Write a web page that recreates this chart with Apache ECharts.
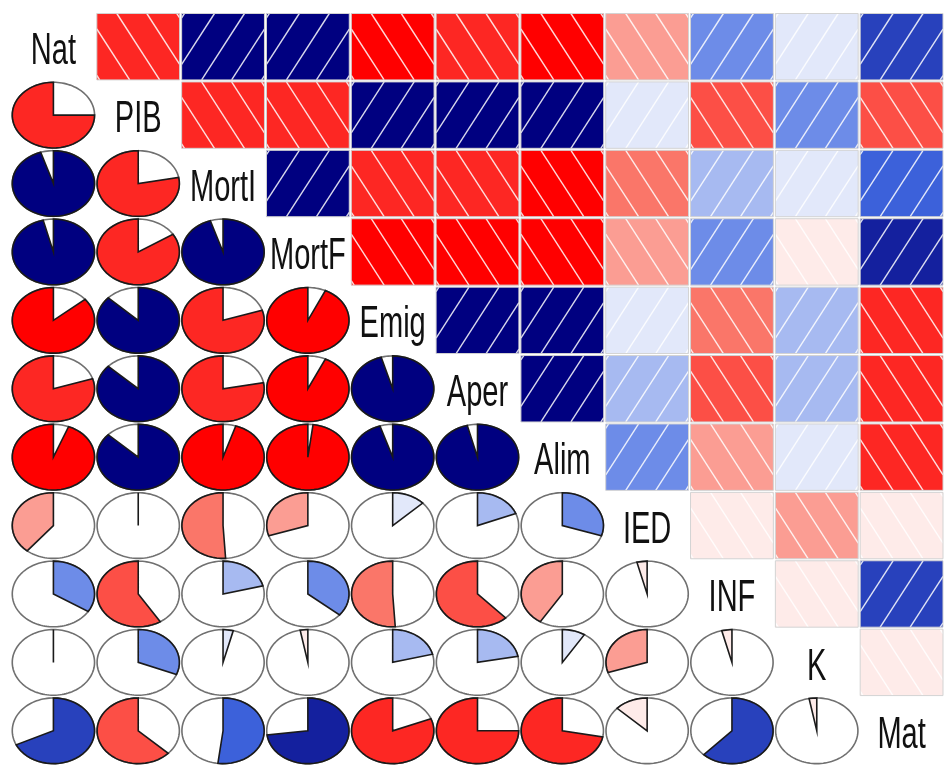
<!DOCTYPE html>
<html><head><meta charset="utf-8">
<script src="https://cdn.jsdelivr.net/npm/echarts@6/dist/echarts.min.js"></script>
<style>html,body{margin:0;padding:0;background:#fff}#c{width:944px;height:765px}</style>
</head><body><div id="c"></div>
<script>
// Variables (diagonal labels)
const variables = ['Nat','PIB','MortI','MortF','Emig','Aper','Alim','IED','INF','K','Mat'];
// Correlations of each variable with the variables that follow it
const rNat   = [-0.75, 0.95, 0.96, -0.86, -0.80, -0.94, -0.39, 0.34, 0.02, 0.68];
const rPIB   = [-0.78, -0.84, 0.87, 0.87, 0.87, 0.01, -0.59, 0.31, -0.63];
const rMortI = [0.95, -0.80, -0.78, -0.95, -0.51, 0.21, 0.04, 0.52];
const rMortF = [-0.93, -0.93, -0.98, -0.30, 0.36, -0.03, 0.73];
const rEmig  = [0.955, 0.95, 0.13, -0.51, 0.21, -0.81];
const rAper  = [0.96, 0.19, -0.62, 0.22, -0.75];
const rAlim  = [0.30, -0.41, 0.09, -0.72];
const rIED   = [-0.04, -0.30, -0.13];
const rINF   = [-0.04, 0.62];
const rK     = [-0.03];

const corrRows = [rNat, rPIB, rMortI, rMortF, rEmig, rAper, rAlim, rIED, rINF, rK, []];
const n = variables.length;
const M = [];
for (let i = 0; i < n; i++) { M.push(new Array(n).fill(0)); M[i][i] = 1; }
corrRows.forEach((row, i) => row.forEach((v, k) => { const j = i + 1 + k; M[i][j] = v; M[j][i] = v; }));
const data = [];
for (let i = 0; i < n; i++) for (let j = 0; j < n; j++) data.push([j, i, M[i][j]]);

// corrgram palette: red, salmon, white, royalblue, navy -> 14 colours
const anchors = [[255,0,0],[250,128,114],[255,255,255],[65,105,225],[0,0,128]];
const NCOL = 14;
const palette = [];
for (let i = 0; i < NCOL; i++) {
  const p = i * (anchors.length - 1) / (NCOL - 1);
  const s = Math.min(Math.floor(p), anchors.length - 2), f = p - s;
  const c = anchors[s].map((v, k) => Math.round(v + (anchors[s + 1][k] - v) * f));
  palette.push('rgb(' + c.join(',') + ')');
}
function colorFor(r) {
  let idx = Math.ceil((r + 1) * NCOL / 2) - 1;
  idx = Math.max(0, Math.min(NCOL - 1, idx));
  return palette[idx];
}

function renderItem(params, api) {
  const col = api.value(0), row = api.value(1), r = api.value(2);
  const c = api.coord([col, row]);
  const sz = api.size([1, 1]);
  const w = sz[0], h = sz[1], cx = c[0], cy = c[1];
  if (row === col) {
    return {
      type: 'text', x: cx, y: cy + 5, scaleX: 0.66, scaleY: 1,
      style: { text: variables[row], x: 0, y: 0, fill: '#111111',
        font: '44px "Liberation Sans", Arial, sans-serif',
        align: 'center', verticalAlign: 'middle', textAlign: 'center', textVerticalAlign: 'middle' }
    };
  }
  if (col > row) {
    const L = cx - w / 2 + 1, R = cx + w / 2 - 1, T = cy - h / 2 + 1, B = cy + h / 2 - 1;
    const children = [{ type: 'rect', shape: { x: L, y: T, width: R - L, height: B - T },
      style: { fill: colorFor(r), stroke: null } }];
    const slope = 1.55, spacing = 30, offset = 20;
    const tSpan = (B - T) / slope;
    const kMin = -Math.ceil(tSpan / spacing) - 1, kMax = Math.ceil((R - L) / spacing) + 1;
    for (let k = kMin; k <= kMax; k++) {
      const x0 = L + offset + k * spacing;
      const t1 = Math.max(0, L - x0), t2 = Math.min(tSpan, R - x0);
      if (t2 <= t1) continue;
      let shape;
      if (r > 0) shape = { x1: x0 + t1, y1: B - slope * t1, x2: x0 + t2, y2: B - slope * t2 };
      else shape = { x1: x0 + t1, y1: T + slope * t1, x2: x0 + t2, y2: T + slope * t2 };
      children.push({ type: 'line', shape: shape, style: { stroke: 'rgba(255,255,255,0.85)', lineWidth: 1.4 } });
    }
    children.push({ type: 'rect', shape: { x: L, y: T, width: R - L, height: B - T },
      style: { fill: null, stroke: '#d3d3d3', lineWidth: 1 } });
    return { type: 'group', children: children };
  }
  // pie (lower triangle)
  const rx = w * 0.485, ry = h * 0.48;
  const ell = [];
  for (let k = 0; k < 120; k++) {
    const a = k / 120 * 2 * Math.PI;
    ell.push([cx + Math.cos(a) * rx, cy - Math.sin(a) * ry]);
  }
  const children = [{ type: 'polygon', shape: { points: ell }, style: { fill: null, stroke: '#707070', lineWidth: 1.6 } }];
  const segs = Math.round(60 * Math.abs(r));
  if (segs > 0) {
    const pts = [];
    const a0 = Math.PI / 2, a1 = Math.PI / 2 - 2 * Math.PI * r;
    for (let k = 0; k < segs; k++) {
      const a = segs === 1 ? a0 : a0 + (a1 - a0) * k / (segs - 1);
      pts.push([cx + Math.cos(a) * rx, cy - Math.sin(a) * ry]);
    }
    pts.push([cx, cy]);
    children.push({ type: 'polygon', shape: { points: pts },
      style: { fill: colorFor(r), stroke: '#1a1a1a', lineWidth: 1.6 } });
  }
  return { type: 'group', children: children };
}

const chart = echarts.init(document.getElementById('c'), null, { renderer: 'canvas' });
chart.setOption({
  backgroundColor: '#ffffff',
  animation: false,
  grid: { left: 11, top: 12.5, width: 943, height: 757 },
  xAxis: { type: 'category', data: variables, show: false },
  yAxis: { type: 'category', data: variables, inverse: true, show: false },
  series: [{ type: 'custom', renderItem: renderItem, data: data, clip: false }]
});
</script></body></html>
